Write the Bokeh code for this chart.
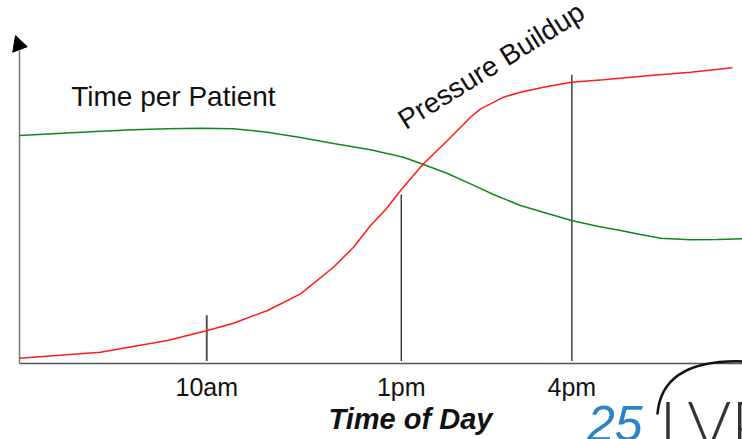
from bokeh.plotting import figure
from bokeh.models import Range1d
from bokeh.core.properties import value
from bokeh.embed import file_html
from bokeh.resources import INLINE

# ---- data (x: time-of-day scale 0..100 across the axis, y: level 0..100) ----
green_x = [0, 11.20, 15.77, 20.47, 25.03, 29.60, 34.30, 38.87, 43.43, 48.55, 53.11, 55.88,
           59.20, 62.38, 65.56, 69.29, 73.03, 76.35, 79.94, 83.13, 85.89, 88.66, 92.81, 96.54, 100]
green_y = [70.59, 71.92, 72.35, 72.66, 72.85, 72.66, 71.61, 69.97, 68.11, 66.19, 63.87, 61.61,
           58.82, 55.63, 52.32, 48.92, 46.44, 44.27, 42.51, 41.18, 39.94, 38.79, 38.30, 38.39, 38.61]

red_x = [0, 11.20, 20.47, 26.00, 29.60, 34.30, 38.87, 43.43, 46.20, 48.55, 50.62, 52.70, 55.88,
         59.20, 62.38, 63.76, 65.15, 66.94, 69.29, 72.48, 76.35, 80.77, 87.28, 92.81, 98.62]
red_y = [1.64, 3.50, 7.12, 10.22, 12.48, 16.41, 21.58, 29.81, 36.01, 42.72, 47.59, 53.56, 61.83,
         69.04, 76.25, 78.85, 80.40, 82.45, 83.99, 85.54, 87.09, 87.83, 89.16, 90.19, 91.55]

tick_pos = [25.9, 52.8, 76.4]
tick_labels = ["10am", "1pm", "4pm"]
marker_top = [14.9, 52.3, 89.4]

FONT = value("Liberation Sans")

# pixel scale of the frame
XK, YK = 7.23, 3.23
p = figure(width=742, height=439,
           x_range=Range1d(-19 / XK, 723 / XK), y_range=Range1d(-76 / YK, 363 / YK),
           x_axis_type=None, y_axis_type=None, min_border=0,
           output_backend="svg", toolbar_location=None,
           outline_line_color=None, background_fill_color="white")
p.grid.visible = False

# axes (drawn as lines with an arrow head on the vertical axis)
p.segment(x0=[0], y0=[0], x1=[100], y1=[0], line_color="#555555", line_width=1.5)
p.segment(x0=[0], y0=[0], x1=[0], y1=[96.9], line_color="#777777", line_width=1.5)
p.patch(x=[-0.55, -0.93, 1.07], y=[101.5, 96.4, 98.1], fill_color="black", line_color="black")

# vertical markers at the three times
p.segment(x0=tick_pos, y0=[0.8] * 3, x1=tick_pos, y1=marker_top,
          line_color=["#555555", "#111111", "#111111"], line_width=[2, 1.2, 1.2])

# curves
p.line(green_x, green_y, line_color="#11881a", line_width=1.5)
p.line(red_x, red_y, line_color="#ff1a1a", line_width=1.5)

# tick labels
p.text(x=tick_pos, y=[-7.43] * 3, text=tick_labels, text_font=FONT,
       text_font_size="25px", text_align="center", text_baseline="alphabetic",
       text_color="#111111")

# axis title
p.text(x=[54.08], y=[-17.15], text=["Time of Day"], text_font=FONT,
       text_font_size="29px", text_font_style="bold italic",
       text_align="center", text_baseline="alphabetic", text_color="#111111")

# curve labels
p.text(x=[7.15], y=[82.75], text=["Time per Patient"], text_font=FONT,
       text_font_size="28px", text_align="left", text_baseline="alphabetic",
       text_color="#111111")
p.text(x=[52.73], y=[74.73], text=["Pressure Buildup"], text_font=FONT,
       text_font_size="28px", text_align="left", text_baseline="alphabetic",
       angle=0.5585, text_color="#111111")

# logo fragment in the corner
p.quadratic(x0=[88.24], y0=[-15.8], x1=[100.4], y1=[0.62], cx=[88.8], cy=[1.55],
            line_color="#111111", line_width=2.5)
p.text(x=[78.5], y=[-18.6], text=["25"], text_font=FONT, text_font_size="50px",
       text_font_style="italic", text_color="#2a84c6", text_baseline="alphabetic")
p.text(x=[88.5], y=[-18.8], text=["LVP"], text_font=value("Lato Light, Liberation Sans"),
       text_font_size="67px", text_color="#333333", text_baseline="alphabetic")

open("out.html", "w").write(file_html(p, INLINE))
